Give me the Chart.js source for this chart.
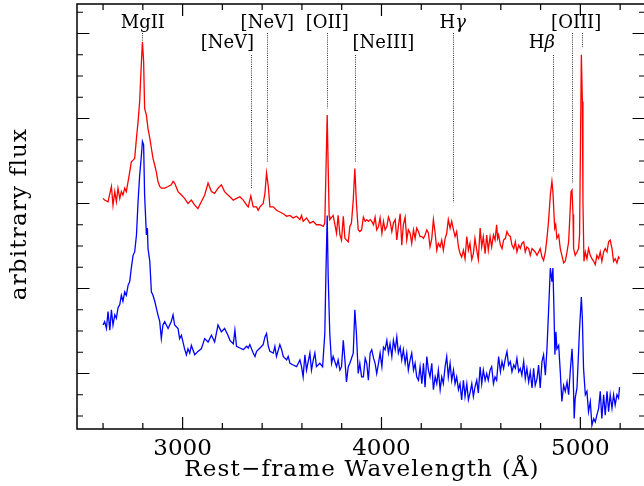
<!DOCTYPE html>
<html><head><meta charset="utf-8">
<script src="https://cdn.jsdelivr.net/npm/chart.js@4.4.1/dist/chart.umd.min.js"></script>
<style>
html,body{margin:0;padding:0;background:#fff;overflow:hidden;width:644px;height:486px}
#wrap{position:relative;width:650px;height:486px}
</style>
</head><body><div id="wrap"><canvas id="c" width="650" height="486"></canvas></div>
<script>
// ---- data (rest-frame wavelength in Å, arbitrary flux) ----
const redWave = [2600,2608,2625,2642,2650,2659,2667,2675,2684,2692,2700,2709,2717,2726,2734,2742,2751,2759,2768,2776,2784,2793,2798,2804,2809,2818,2826,2835,2843,2851,2860,2868,2876,2885,2893,2910,2927,2943,2952,2960,2977,2994,3010,3027,3044,3061,3077,3094,3111,3128,3145,3161,3178,3195,3211,3228,
3238,3255,3271,3288,3305,3322,3330,3338,3343,3355,3372,3380,3389,3405,3414,3422,3431,3439,3456,3472,3489,3506,3523,3540,3556,3573,3590,3598,3606,3623,3640,3657,3673,3690,3707,3715,3720,3727,3732,3737,3740,3757,3774,3782,3791,3799,3808,3816,3824,3833,3841,3849,3858,3866,3874,3883,3891,3900,
3909,3918,3926,3934,3943,3951,3960,3968,3976,3985,3993,4002,4010,4018,4027,4035,4043,4052,4060,4069,4077,4085,4094,4102,4110,4119,4127,4135,4144,4152,4161,4169,4177,4186,4194,4203,4211,4219,4228,4236,4244,4253,4261,4270,4278,4286,4295,4303,4311,4320,4328,4336,4345,4353,4362,4370,4378,4387,4395,4403,4412,4420,4429,4437,4445,4454,4462,4470,4479,4487,4496,4504,4512,4521,4529,4537,4546,4554,4563,4571,4579,
4584,4589,4598,4606,4614,4623,4631,4639,4648,4656,4665,4673,4681,4690,4698,4706,4715,4723,4731,4740,4748,4757,4765,4773,4782,4790,4798,4807,4815,4824,4832,4840,4849,4857,4862,4866,4871,4876,4882,4891,4899,4907,4916,4924,4933,4941,4946,4953,4958,4963,4966,4974,4983,4991,4996,5001,5005,5010,5013,5018,5025,5033,5041,5050,5058,5067,5075,5083,5092,5100,5108,5117,5125,5134,5142,5150,5159,5167,5175,5184,5192,5197];
const redFlux = [25.6,25.4,25.2,27.0,24.8,26.4,25.2,26.8,25.6,26.4,26.0,26.8,26.4,27.6,28.7,29.9,30.1,30.3,32.7,34.6,37.0,41.7,44.0,41.7,36.2,35.4,33.8,32.7,31.5,30.3,29.5,28.7,27.6,27.0,26.8,26.8,27.0,27.2,27.6,27.4,26.4,26.0,25.6,25.0,25.4,24.8,24.4,25.2,26.0,27.4,26.4,26.2,26.8,27.2,26.4,26.0,
25.8,25.4,25.6,25.8,25.4,24.8,24.6,25.4,25.9,24.6,24.6,24.2,24.6,25.0,26.2,28.6,27.0,24.6,24.6,24.2,24.0,23.8,23.5,23.6,23.3,23.5,23.1,23.6,22.9,23.3,22.7,22.9,22.5,22.5,22.3,22.7,28.0,35.4,29.3,23.5,23.1,23.6,21.5,23.6,21.3,20.7,23.5,20.9,20.7,20.5,22.3,22.7,25.4,29.1,25.0,21.9,21.7,21.9,
23.4,22.9,23.1,22.9,23.1,22.9,22.5,23.4,21.9,22.3,23.3,21.5,22.9,21.9,22.3,23.4,22.9,21.7,22.7,23.1,20.7,22.3,23.8,20.1,22.5,23.4,20.7,21.9,21.5,20.3,21.9,20.9,22.1,21.7,21.1,21.1,20.9,21.3,21.9,21.5,19.9,20.9,23.1,21.5,19.5,20.3,19.9,20.7,19.5,20.9,21.5,23.1,22.1,22.9,21.9,21.1,21.7,19.9,19.1,18.7,19.5,18.5,21.1,19.5,20.3,18.4,19.1,20.9,19.5,18.4,22.1,19.9,21.1,19.1,21.3,19.5,21.1,19.9,21.3,20.7,22.5,
20.9,21.3,20.1,19.7,20.7,20.9,21.7,21.3,21.1,20.1,19.7,20.5,19.3,20.1,19.7,20.3,20.5,19.3,19.9,19.7,18.9,19.7,19.5,19.3,18.9,19.3,19.7,18.7,18.3,19.3,20.9,22.9,26.0,27.6,26.4,24.4,22.1,22.5,20.9,21.3,19.7,18.9,18.0,18.2,19.3,20.5,22.9,26.4,26.6,23.7,19.7,18.9,19.3,19.7,21.3,33.1,42.5,37.0,25.2,18.2,19.3,18.5,19.7,18.9,18.5,18.2,17.8,18.9,18.5,19.3,18.2,19.3,19.7,19.3,20.5,20.7,19.7,18.2,18.5,18.0,18.7,18.5];

const blueWave = [2600,2608,2617,2625,2634,2642,2650,2659,2667,2675,2684,2692,2700,2709,2717,2726,2734,2742,2751,2759,2768,2776,2784,2793,2798,2804,2809,2818,2823,2826,2835,2843,2851,2860,2868,2876,2885,2893,2901,2910,2927,2943,2952,2960,2977,2985,2994,3002,3010,3019,3027,3036,3044,3061,3077,3094,3111,3128,3145,3161,3178,3195,3211,3228,
3238,3255,3263,3271,3288,3305,3322,3330,3338,3355,3364,3372,3389,3405,3414,3422,3431,3439,3456,3464,3472,3489,3498,3506,3523,3531,3540,3556,3573,3590,3598,3606,3615,3623,3640,3648,3657,3665,3673,3690,3704,3715,3720,3727,3732,3740,3749,3757,3774,3782,3791,3799,3808,3816,3824,3833,3841,3858,3866,3874,3883,3891,3900,
3909,3918,3926,3934,3943,3951,3960,3968,3976,3985,3993,4002,4010,4018,4027,4035,4043,4052,4060,4069,4077,4085,4094,4102,4110,4119,4127,4135,4144,4152,4161,4169,4177,4186,4194,4203,4211,4219,4228,4236,4244,4253,4261,4270,4278,4286,4295,4303,4311,4320,4328,4336,4345,4353,4362,4370,4378,4387,4395,4403,4412,4420,4429,4437,4445,4454,4462,4470,4479,4487,4496,4504,4512,4521,4529,4537,4546,4554,4563,4571,4579,
4589,4598,4606,4614,4623,4631,4639,4648,4656,4665,4673,4681,4690,4698,4706,4715,4723,4731,4740,4748,4757,4765,4773,4782,4790,4798,4807,4815,4824,4832,4840,4849,4857,4862,4867,4872,4877,4882,4891,4899,4907,4916,4924,4933,4941,4949,4958,4963,4969,4974,4983,4991,4996,5005,5010,5016,5025,5033,5041,5050,5058,5067,5075,5083,5092,5100,5108,5117,5125,5134,5142,5150,5159,5167,5175,5184,5192,5197];
const blueFlux = [10.7,11.1,10.3,12.3,10.1,12.5,10.7,11.9,11.5,12.7,13.1,14.2,13.5,14.6,14.2,15.4,15.8,17.4,18.9,19.3,21.3,25.2,28.3,30.7,32.3,31.9,26.0,21.3,22.1,19.7,18.2,14.6,14.2,13.5,12.7,11.9,11.1,9.1,10.7,11.1,10.3,11.1,11.9,10.7,10.3,9.1,9.5,8.7,7.9,7.2,7.9,7.4,8.3,7.2,7.6,7.9,9.1,8.7,9.5,8.7,10.7,9.9,10.3,9.5,
8.9,8.5,10.1,8.2,8.0,7.8,8.2,8.0,8.4,7.4,7.0,7.6,8.0,8.4,9.3,9.7,8.2,7.6,7.4,8.2,7.0,8.4,7.8,7.0,6.6,7.0,6.2,6.0,5.8,6.6,5.8,4.6,7.2,5.4,7.4,5.4,6.6,7.4,5.8,6.2,5.8,9.7,16.0,23.6,16.4,9.7,6.2,7.0,5.8,6.6,5.4,5.8,8.9,6.6,4.0,5.8,6.2,7.4,12.5,9.7,5.0,6.2,4.6,
4.6,6.8,6.2,4.2,7.4,7.8,6.8,6.2,5.0,6.2,7.4,5.8,8.1,7.8,8.9,7.4,8.5,7.0,8.9,7.8,9.3,7.4,8.1,6.6,7.8,6.2,7.4,5.4,6.6,7.4,5.4,6.2,4.6,4.2,5.8,3.8,6.2,3.4,7.0,5.4,4.6,6.2,3.1,4.6,3.8,5.4,3.1,4.6,3.8,5.8,7.0,4.6,6.2,4.2,5.4,3.8,4.6,3.1,3.8,1.9,4.2,2.3,3.8,1.9,2.7,3.8,2.3,3.4,4.2,2.7,5.8,3.8,5.4,4.2,5.0,4.2,5.4,5.8,3.8,4.6,4.2,
7.0,5.2,6.4,5.6,6.8,7.6,6.0,6.4,5.2,6.0,5.6,6.8,5.2,5.6,4.8,6.4,4.4,5.6,4.0,5.2,3.3,5.6,3.6,4.4,6.0,3.3,6.4,7.2,4.8,7.9,12.3,17.4,15.8,17.4,12.7,7.2,9.9,7.9,8.3,5.2,1.7,3.6,2.9,4.0,2.5,5.2,7.9,5.6,-0.3,2.1,3.3,7.6,10.3,14.0,11.5,5.6,2.5,2.9,0.5,1.7,-1.1,-0.3,-0.7,0.1,0.9,2.9,-0.3,2.5,0.1,2.9,0.5,2.5,0.9,2.5,1.3,2.5,2.1,3.4];

// axis ranges and ticks (data units)
const xRange = [2469, 5325];
const yRange = [-1.53, 48.47];
const xMinorStep = 200, xMajorStep = 1000;
const yMinorStep = 2.5, yMajorStep = 10, yMajorOffset = 5;
const xTickLabels = ['3000', '4000', '5000'];
const xTickValues = [3000, 4000, 5000];
const xTitle = 'Rest\u2212frame Wavelength (\u00C5)';
const yTitle = 'arbitrary flux';

// emission-line annotations
const lineWave   = [2798, 3346, 3426, 3727, 3869, 4358, 4861, 4959, 5007];
const lineTop    = [45.06, 42.47, 45.06, 45.06, 42.47, 45.06, 42.47, 45.06, 45.06];
const lineBottom = [44.0, 26.8, 29.9, 36.2, 29.9, 25.1, 28.7, 27.4, 43.4];
const labelText  = ['MgII', '[NeV]', '[NeV]', '[OII]', '[NeIII]', 'H\u03B3', 'H\u03B2', '[OIII]'];
const labelWave  = [2800, 3225, 3426, 3727, 4010, 4358, 4806, 4979];
const labelFlux  = [45.6, 43.25, 45.6, 45.6, 43.25, 45.6, 43.25, 45.6];

const SERIF = '"DejaVu Serif", "Liberation Serif", serif';

const decorPlugin = {
  id: 'decor',
  beforeDatasetsDraw(chart) {
    const ctx = chart.ctx, xs = chart.scales.x, ys = chart.scales.y;
    ctx.save();
    ctx.strokeStyle = '#333';
    ctx.lineWidth = 1;
    ctx.setLineDash([1, 1.2]);
    lineWave.forEach((w, i) => {
      const px = Math.round(xs.getPixelForValue(w)) + 0.5;
      ctx.beginPath();
      ctx.moveTo(px, ys.getPixelForValue(lineTop[i]));
      ctx.lineTo(px, ys.getPixelForValue(lineBottom[i]));
      ctx.stroke();
    });
    ctx.setLineDash([]);
    ctx.fillStyle = '#000';
    ctx.textBaseline = 'alphabetic';
    labelText.forEach((t, i) => {
      const cx = xs.getPixelForValue(labelWave[i]);
      const by = ys.getPixelForValue(labelFlux[i]);
      const greek = /[\u0370-\u03FF]$/.test(t);
      if (greek) {
        const a = t.slice(0, -1), b = t.slice(-1);
        ctx.font = '18px ' + SERIF;
        const wa = ctx.measureText(a).width;
        ctx.font = 'italic 18px ' + SERIF;
        const wb = ctx.measureText(b).width;
        const x0 = cx - (wa + wb) / 2;
        ctx.textAlign = 'left';
        ctx.font = '18px ' + SERIF;
        ctx.fillText(a, x0, by);
        ctx.font = 'italic 18px ' + SERIF;
        ctx.fillText(b, x0 + wa, by);
      } else {
        ctx.font = '18px ' + SERIF;
        ctx.textAlign = 'center';
        ctx.fillText(t, cx, by);
      }
    });
    ctx.restore();
  },
  afterDraw(chart) {
    const ctx = chart.ctx, ca = chart.chartArea, xs = chart.scales.x, ys = chart.scales.y;
    ctx.save();
    ctx.strokeStyle = '#000';
    ctx.lineWidth = 1.5;
    ctx.strokeRect(ca.left, ca.top, ca.right - ca.left, ca.bottom - ca.top);
    ctx.lineWidth = 1.2;
    ctx.beginPath();
    for (let v = Math.ceil(xRange[0] / xMinorStep) * xMinorStep; v <= xRange[1]; v += xMinorStep) {
      const px = xs.getPixelForValue(v);
      const L = (v % xMajorStep === 0) ? 12 : 6;
      ctx.moveTo(px, ca.bottom); ctx.lineTo(px, ca.bottom - L);
      ctx.moveTo(px, ca.top); ctx.lineTo(px, ca.top + L);
    }
    for (let v = 0; v <= yRange[1]; v += yMinorStep) {
      const py = ys.getPixelForValue(v);
      const L = (Math.abs((v - yMajorOffset) % yMajorStep) < 1e-6) ? 12.5 : 6;
      ctx.moveTo(ca.left, py); ctx.lineTo(ca.left + L, py);
      ctx.moveTo(ca.right, py); ctx.lineTo(ca.right - L, py);
    }
    ctx.stroke();
    // tick labels
    ctx.fillStyle = '#000';
    ctx.font = '23px ' + SERIF;
    ctx.textAlign = 'center';
    ctx.textBaseline = 'alphabetic';
    xTickValues.forEach((v, i) => {
      ctx.fillText(xTickLabels[i], xs.getPixelForValue(v), ca.bottom + 26);
    });
    // axis titles
    try { ctx.letterSpacing = '1.2px'; } catch (e) {}
    ctx.fillText(xTitle, 362, ca.bottom + 46.5);
    ctx.translate(25.5, 214);
    ctx.rotate(-Math.PI / 2);
    ctx.fillText(yTitle, 0, 0);
    ctx.restore();
  }
};

const toPts = (ws, fs) => ws.map((w, i) => ({ x: w, y: fs[i] }));

new Chart(document.getElementById('c').getContext('2d'), {
  type: 'line',
  data: {
    datasets: [
      { label: 'red', data: toPts(redWave, redFlux), borderColor: '#ff0000', borderWidth: 1.3, pointRadius: 0, tension: 0, fill: false },
      { label: 'blue', data: toPts(blueWave, blueFlux), borderColor: '#0000ff', borderWidth: 1.3, pointRadius: 0, tension: 0, fill: false }
    ]
  },
  options: {
    responsive: false,
    animation: false,
    devicePixelRatio: 1,
    layout: { padding: { left: 77, top: 4, right: 5, bottom: 57 } },
    plugins: { legend: { display: false }, tooltip: { enabled: false } },
    scales: {
      x: { type: 'linear', min: xRange[0], max: xRange[1], display: false },
      y: { type: 'linear', min: yRange[0], max: yRange[1], display: false }
    }
  },
  plugins: [decorPlugin]
});
</script>
</body></html>
